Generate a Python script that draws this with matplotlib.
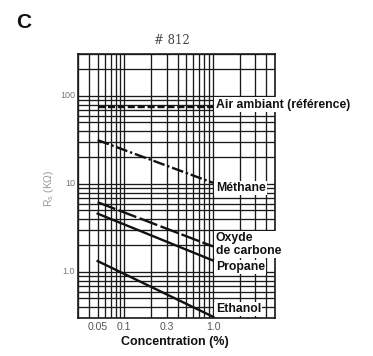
import matplotlib
matplotlib.use("Agg")
import matplotlib.pyplot as plt
from matplotlib.ticker import LogLocator, NullFormatter

plt.rcParams['font.family'] = ['Liberation Sans', 'DejaVu Sans']

# Gas concentration (%) at the two ends of each sensor-response line
conc = [0.05, 1.0]
air_ref = [75, 75]
methane = [31.5, 10.3]
oxyde_carbone = [6.2, 1.95]
propane = [4.6, 1.35]
ethanol = [1.33, 0.31]

x_ticks = [0.05, 0.1, 0.3, 1.0]
x_tick_labels = ["0.05", "0.1", "0.3", "1.0"]
y_ticks = [1.0, 10, 100]
y_tick_labels = ["1.0", "10", "100"]

fig = plt.figure(figsize=(3.73, 3.56), dpi=100)
ax = fig.add_axes([78 / 373, 1 - 318 / 356, 197 / 373, 264 / 356])
ax.set_xscale('log')
ax.set_yscale('log')
ax.set_xlim(0.03, 5)
ax.set_ylim(0.3, 300)

# log-paper grid
ax.xaxis.set_major_locator(LogLocator(base=10, subs=(1.0,)))
ax.xaxis.set_minor_locator(LogLocator(base=10, subs=range(2, 10)))
ax.yaxis.set_major_locator(LogLocator(base=10, subs=(1.0,)))
ax.yaxis.set_minor_locator(LogLocator(base=10, subs=range(2, 10)))
ax.grid(True, which='both', color='#1a1a1a', linewidth=0.95)
ax.set_axisbelow(True)
for axis in (ax.xaxis, ax.yaxis):
    axis.set_major_formatter(NullFormatter())
    axis.set_minor_formatter(NullFormatter())
ax.tick_params(which='both', length=0)
for s in ax.spines.values():
    s.set_linewidth(1.2)
    s.set_color('#1a1a1a')

lw = 1.7
ax.plot(conc, air_ref, color='#111', lw=lw, linestyle=(0, (3, 1.2)))
ax.plot(conc, methane, color='#111', lw=lw, linestyle=(0, (5, 1.2, 1, 1.2)))
ax.plot(conc, oxyde_carbone, color='#111', lw=lw, linestyle=(0, (8, 1.5)))
ax.plot(conc, propane, color='#111', lw=lw)
ax.plot(conc, ethanol, color='#111', lw=lw)

# printed scale values
for v, t in zip(x_ticks, x_tick_labels):
    ax.text(v, 0.235, t, ha='center', va='center', fontsize=7.5, color='#555')
for v, t in zip(y_ticks, y_tick_labels):
    ax.text(0.0277, v, t, ha='right', va='center', fontsize=6.5, color='#777')

ax.text(0.49, -0.092, "Concentration (%)", transform=ax.transAxes, ha='center',
        va='center', fontsize=9, fontweight='bold', color='#111')
ax.text(-0.147, 0.49, r"R$_\mathrm{s}$ (KΩ)", transform=ax.transAxes, rotation=90,
        ha='center', va='center', fontsize=7.5, color='#999')

box = dict(facecolor='white', edgecolor='none', pad=1.0)
lab = dict(fontsize=8.8, fontweight='bold', color='#111', ha='left', va='center',
           bbox=box, clip_on=False)
ax.text(1.07, 80, "Air ambiant (référence)", **lab)
ax.text(1.07, 9.0, "Méthane", **lab)
ax.text(1.07, 2.05, "Oxyde\nde carbone", linespacing=1.1, **lab)
ax.text(1.07, 1.14, "Propane", **lab)
ax.text(1.07, 0.38, "Ethanol", **lab)

fig.text(172 / 373, 1 - 40 / 356, "# 812", ha='center', va='center', fontsize=8.5,
         color='#444', family=['DejaVu Serif'])
fig.text(24 / 373, 1 - 22 / 356, "C", ha='center', va='center', fontsize=15,
         fontweight='bold', color='#111')

fig.savefig("out.png", dpi=100, facecolor='white')
